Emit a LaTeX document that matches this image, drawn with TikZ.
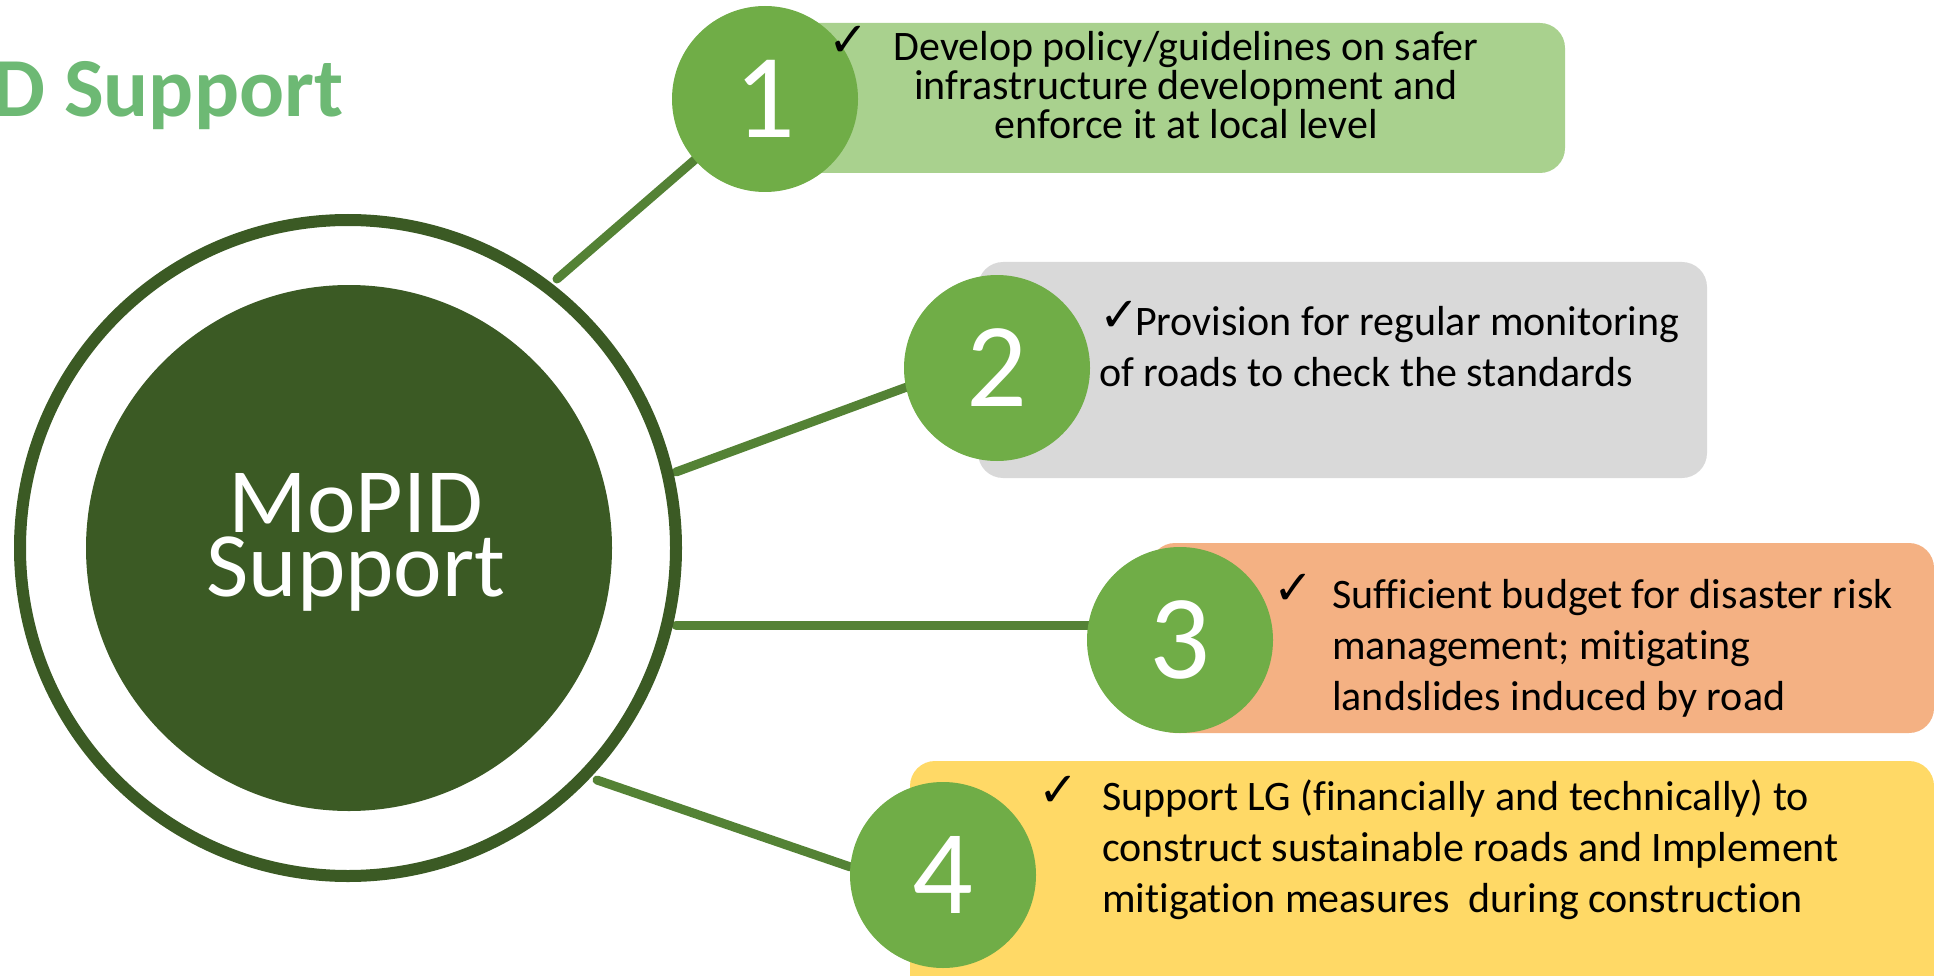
\documentclass[tikz,border=0pt]{standalone}
\usepackage{fontspec}
\setmainfont{Carlito}[Ligatures=NoCommon]
\newfontfamily\chkfont{DejaVu Sans}
\usetikzlibrary{positioning,calc}
\definecolor{ringgreen}{RGB}{59,90,36}
\definecolor{linegreen}{RGB}{84,130,53}
\definecolor{discgreen}{RGB}{112,173,71}
\definecolor{titlegreen}{RGB}{109,185,116}
\definecolor{boxgreen}{RGB}{169,209,142}
\definecolor{boxgray}{RGB}{217,217,217}
\definecolor{boxorange}{RGB}{244,177,131}
\definecolor{boxyellow}{RGB}{255,217,102}
\pgfdeclarelayer{bg}
\pgfsetlayers{bg,main}
\newcommand{\chk}{{\chkfont\fontsize{48}{48}\selectfont\raisebox{4pt}{✓}}}
\newcommand{\itemfont}{\fontsize{42}{51}\selectfont\lineskiplimit=-100pt}
\newcommand{\tightfont}{\fontsize{42}{39}\selectfont\lineskiplimit=-100pt}
\newcommand{\corefont}{\fontsize{92}{64}\selectfont\lineskiplimit=-100pt}

\begin{document}
\begin{tikzpicture}[x=1pt,y=-1pt,
  itembox/.style={rectangle, rounded corners=25pt, inner sep=0pt},
  numdisc/.style={circle, fill=discgreen, minimum size=186pt, inner sep=0pt,
    text=white, font=\fontsize{120}{120}\selectfont},
  itemtext/.style={inner sep=0pt, align=left, font=\itemfont},
  leader/.style={draw=linegreen, line width=9pt, line cap=round}]
  \useasboundingbox (0,0) rectangle (1934,976);
  \clip (0,0) rectangle (1934,976);

  % Title
  \node[anchor=base west, inner sep=0pt, text=titlegreen,
    font=\bfseries\fontsize{84}{84}\selectfont] (title) at (-8,117) {D Support};

  % Centre circle
  \node[circle, draw=ringgreen, line width=12pt, minimum size=656pt, inner sep=0pt] (ring) at (348,548) {};
  \node[circle, fill=ringgreen, minimum size=526pt, inner sep=0pt] (core) at (349,548) {};
  \node[anchor=north, inner sep=0pt, align=center, text=white, font=\corefont]
    (coretext) at (356,462) {\rule{0pt}{70pt}MoPID\\Support};

  % Item boxes
  \node[itembox, fill=boxgreen, minimum width=795pt, minimum height=150pt] (box1) at (1167.5,98) {};
  \node[itembox, fill=boxgray, minimum width=729pt, minimum height=216pt] (box2) at (1342.5,370) {};
  \node[itembox, fill=boxorange, minimum width=784pt, minimum height=190pt] (box3) at (1542,638) {};
  \node[itembox, fill=boxyellow, minimum width=1024pt, minimum height=249pt] (box4) at (1422,885.5) {};

  % Numbers
  \node[numdisc] (n1) at (765,99) {1};
  \node[numdisc] (n2) at (997,368) {2};
  \node[numdisc] (n3) at (1180,640) {3};
  \node[numdisc] (n4) at (943,875) {4};

  % Item texts
  \node[itemtext, anchor=north, align=center, font=\tightfont] (t1) at (1186,20)
    {\rule{0pt}{40pt}\llap{\chk\hspace{25pt}}Develop policy/guidelines on safer\\infrastructure development and\\enforce it at local level};
  \node[itemtext, anchor=north west] (t2) at (1099,295)
    {\rule{0pt}{40pt}\makebox[36pt][l]{\chk}Provision for regular monitoring\\of roads to check the standards};
  \node[itemtext, anchor=north west] (t3) at (1332,568)
    {\rule{0pt}{40pt}\llap{\chk\hspace{19pt}}Sufficient budget for disaster risk\\management; mitigating\\landslides induced by road};
  \node[itemtext, anchor=north west] (t4) at (1102,770)
    {\rule{0pt}{40pt}\llap{\chk\hspace{23pt}}Support LG (financially and technically) to\\construct sustainable roads and Implement\\mitigation measures~ during construction};

  % Leader lines
  \coordinate (c1) at (557,279);
  \coordinate (c2) at (676,472);
  \coordinate (c3) at (676,625);
  \coordinate (c4) at (597,780);
  \begin{pgfonlayer}{bg}
    \draw[leader] (c1) -- (n1.center);
    \draw[leader] (c2) -- (n2.192);
    \draw[leader] (c3) -- (c3 -| n3.center);
    \draw[leader] (c4) -- (n4.175);
  \end{pgfonlayer}
\end{tikzpicture}
\end{document}
